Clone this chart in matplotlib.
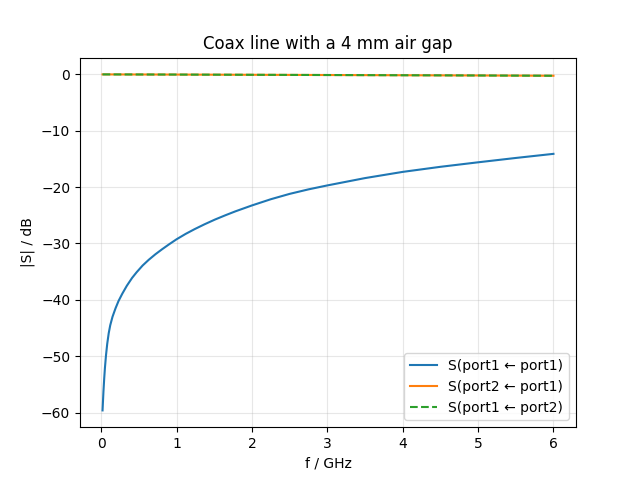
import matplotlib
matplotlib.use("Agg")
import matplotlib.pyplot as plt

# frequencies in GHz and |S| in dB
freq_s11 = [0.018, 0.03, 0.04, 0.05, 0.064, 0.08, 0.10, 0.12, 0.15, 0.19,
            0.23, 0.28, 0.34, 0.41, 0.47, 0.55, 0.63, 0.72, 0.81, 0.90,
            1.0, 1.12, 1.24, 1.37, 1.51, 1.65, 1.78, 2.0, 2.25, 2.5,
            2.75, 3.0, 3.5, 4.0, 4.5, 5.0, 5.5, 6.0]
s11_db = [-59.6, -56.25, -53.95, -52.0, -49.8, -47.8, -45.9, -44.5, -43.0, -41.5,
          -40.2, -38.9, -37.5, -36.1, -35.1, -33.9, -32.9, -31.9, -31.0, -30.15,
          -29.25, -28.3, -27.45, -26.6, -25.75, -24.98, -24.3, -23.25, -22.15, -21.2,
          -20.4, -19.7, -18.4, -17.3, -16.4, -15.6, -14.83, -14.1]

freq_s21 = [0.018, 1.0, 2.0, 3.0, 4.0, 5.0, 6.0]
s21_db = [-0.01, -0.04, -0.08, -0.12, -0.16, -0.20, -0.25]
s12_db = [-0.01, -0.04, -0.08, -0.12, -0.16, -0.20, -0.25]

plt.figure(figsize=(6.4, 4.8), dpi=100)
plt.plot(freq_s11, s11_db, label="S(port1 \u2190 port1)")
plt.plot(freq_s21, s21_db, label="S(port2 \u2190 port1)")
plt.plot(freq_s21, s12_db, "--", label="S(port1 \u2190 port2)")

plt.xlabel("f / GHz")
plt.ylabel("|S| / dB")
plt.title("Coax line with a 4 mm air gap")
plt.grid(True, alpha=0.3)
plt.legend(loc="lower right")
plt.savefig("out.png")
